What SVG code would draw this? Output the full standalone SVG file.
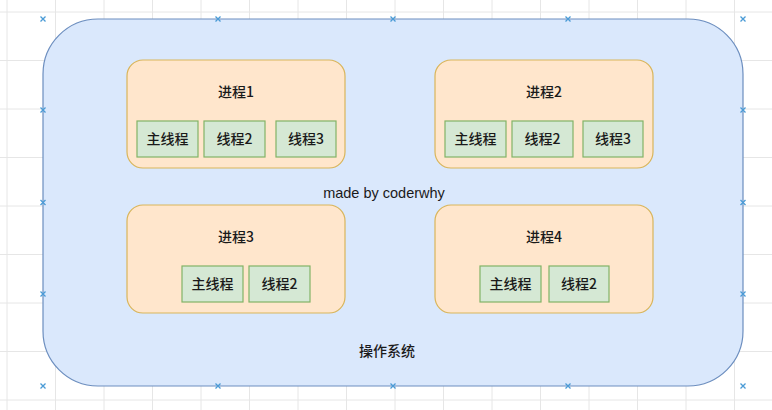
<svg xmlns="http://www.w3.org/2000/svg" xmlns:xlink="http://www.w3.org/1999/xlink" width="772" height="410" viewBox="0 0 772 410">
<style>
.grid line{stroke:#e6e6e6;stroke-width:1}
.os{fill:#dae8fc;stroke:#6c8ebf;stroke-width:1.2}
.proc{fill:#ffe6cc;stroke:#d9b55a;stroke-width:1.2}
.thr{fill:#d5e8d4;stroke:#82b366;stroke-width:1.2}
.t{font-family:"Noto Sans CJK SC","Liberation Sans",sans-serif;font-size:14px;font-weight:500;fill:#1a1a1a;text-anchor:middle}
.en{font-family:"Liberation Sans",Arial,sans-serif;font-size:14.5px;fill:#1a1a1a;text-anchor:middle}
.mk{stroke:#4a9bd6;stroke-width:1.3;fill:none}
</style>
<defs>
<g id="x"><path class="mk" d="M-2.5,-2.5L2.5,2.5M-2.5,2.5L2.5,-2.5"/></g>
</defs>
<rect width="772" height="410" fill="#ffffff"/>
<g class="grid">
<line x1="7" y1="0" x2="7" y2="410"/><line x1="55.5" y1="0" x2="55.5" y2="410"/><line x1="104" y1="0" x2="104" y2="410"/><line x1="152.5" y1="0" x2="152.5" y2="410"/><line x1="201" y1="0" x2="201" y2="410"/><line x1="249.5" y1="0" x2="249.5" y2="410"/><line x1="298" y1="0" x2="298" y2="410"/><line x1="346.5" y1="0" x2="346.5" y2="410"/><line x1="395" y1="0" x2="395" y2="410"/><line x1="443.5" y1="0" x2="443.5" y2="410"/><line x1="492" y1="0" x2="492" y2="410"/><line x1="540.5" y1="0" x2="540.5" y2="410"/><line x1="589" y1="0" x2="589" y2="410"/><line x1="637.5" y1="0" x2="637.5" y2="410"/><line x1="686" y1="0" x2="686" y2="410"/><line x1="734.5" y1="0" x2="734.5" y2="410"/>
<line x1="0" y1="12" x2="772" y2="12"/><line x1="0" y1="60.5" x2="772" y2="60.5"/><line x1="0" y1="109" x2="772" y2="109"/><line x1="0" y1="157.5" x2="772" y2="157.5"/><line x1="0" y1="206" x2="772" y2="206"/><line x1="0" y1="254.5" x2="772" y2="254.5"/><line x1="0" y1="303" x2="772" y2="303"/><line x1="0" y1="351.5" x2="772" y2="351.5"/><line x1="0" y1="400" x2="772" y2="400"/>
</g>
<g id="os">
<rect class="os" x="43" y="19" width="700" height="367" rx="55" ry="55"/>
<text class="t" x="387" y="356">操作系统</text>
<text class="en" x="384" y="198">made by coderwhy</text>
</g>
<g id="p1">
<rect class="proc" x="127" y="60" width="218" height="108" rx="16"/>
<text class="t" x="236" y="97">进程1</text>
<g id="p1t1"><rect class="thr" x="137" y="121" width="61" height="36"/><text class="t" x="167.5" y="144">主线程</text></g>
<g id="p1t2"><rect class="thr" x="204" y="121" width="61" height="36"/><text class="t" x="234.5" y="144">线程2</text></g>
<g id="p1t3"><rect class="thr" x="276" y="121" width="60" height="36"/><text class="t" x="306" y="144">线程3</text></g>
</g>
<g id="p2">
<rect class="proc" x="435" y="60" width="218" height="108" rx="16"/>
<text class="t" x="544" y="97">进程2</text>
<g id="p2t1"><rect class="thr" x="445" y="121" width="61" height="36"/><text class="t" x="475.5" y="144">主线程</text></g>
<g id="p2t2"><rect class="thr" x="512" y="121" width="61" height="36"/><text class="t" x="542.5" y="144">线程2</text></g>
<g id="p2t3"><rect class="thr" x="583" y="121" width="60" height="36"/><text class="t" x="613" y="144">线程3</text></g>
</g>
<g id="p3">
<rect class="proc" x="127" y="205" width="218" height="108" rx="16"/>
<text class="t" x="236" y="242">进程3</text>
<g id="p3t1"><rect class="thr" x="182" y="266" width="61" height="36"/><text class="t" x="212.5" y="289">主线程</text></g>
<g id="p3t2"><rect class="thr" x="249" y="266" width="61" height="36"/><text class="t" x="279.5" y="289">线程2</text></g>
</g>
<g id="p4">
<rect class="proc" x="435" y="205" width="218" height="108" rx="16"/>
<text class="t" x="544" y="242">进程4</text>
<g id="p4t1"><rect class="thr" x="480" y="266" width="61" height="36"/><text class="t" x="510.5" y="289">主线程</text></g>
<g id="p4t2"><rect class="thr" x="549" y="266" width="60" height="36"/><text class="t" x="579" y="289">线程2</text></g>
</g>
<g id="connectors"></g>
<g id="markers">
<use xlink:href="#x" x="43" y="19"/><use xlink:href="#x" x="218" y="19"/><use xlink:href="#x" x="393" y="19"/><use xlink:href="#x" x="568" y="19"/><use xlink:href="#x" x="743" y="19"/>
<use xlink:href="#x" x="43" y="110"/><use xlink:href="#x" x="743" y="110"/>
<use xlink:href="#x" x="43" y="202.5"/><use xlink:href="#x" x="743" y="202.5"/>
<use xlink:href="#x" x="43" y="294"/><use xlink:href="#x" x="743" y="294"/>
<use xlink:href="#x" x="43" y="386"/><use xlink:href="#x" x="218" y="386"/><use xlink:href="#x" x="393" y="386"/><use xlink:href="#x" x="568" y="386"/><use xlink:href="#x" x="743" y="386"/>
</g>
</svg>
